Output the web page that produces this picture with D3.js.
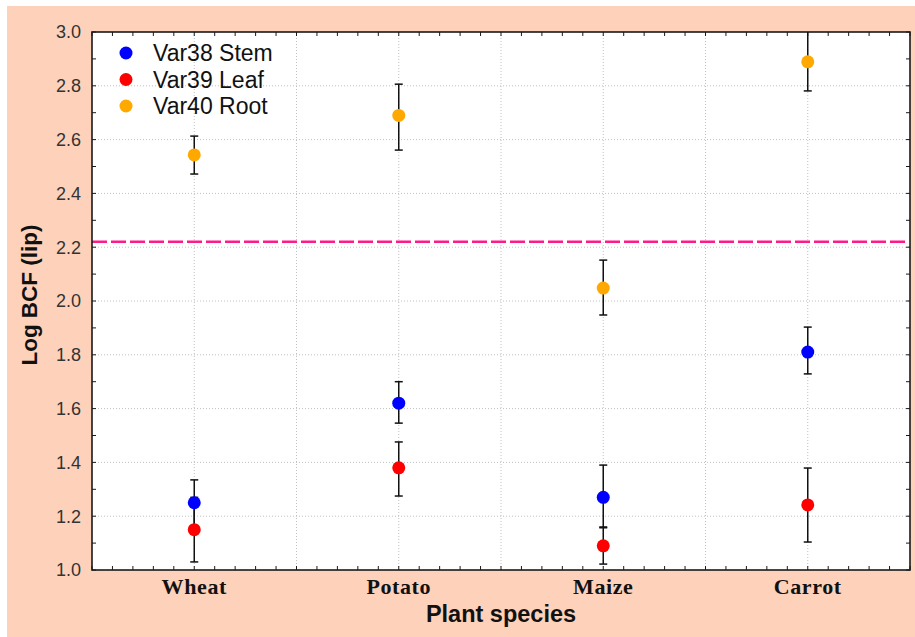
<!DOCTYPE html>
<html>
<head>
<meta charset="utf-8">
<script src="https://cdn.jsdelivr.net/npm/d3@7"></script>
<style>
  body { margin: 0; background: #fff; }
  svg { display: block; }
</style>
</head>
<body>
<svg></svg>
<script>
const width = 915
const height = 637

// data
const species = ["Wheat", "Potato", "Maize", "Carrot"]
const seriesNames = ["Var38 Stem", "Var39 Leaf", "Var40 Root"]
const seriesColors = ["#0000ff", "#ff0000", "#ffa800"]
const stemMean = [1.25, 1.62, 1.27, 1.81]
const stemLow = [1.165, 1.546, 1.16, 1.729]
const stemHigh = [1.335, 1.70, 1.39, 1.903]
const leafMean = [1.15, 1.38, 1.09, 1.242]
const leafLow = [1.03, 1.275, 1.022, 1.104]
const leafHigh = [1.27, 1.476, 1.157, 1.379]
const rootMean = [2.543, 2.69, 2.048, 2.889]
const rootLow = [2.472, 2.561, 1.948, 2.781]
const rootHigh = [2.613, 2.806, 2.152, 3.0]
const yTicks = [1.0, 1.2, 1.4, 1.6, 1.8, 2.0, 2.2, 2.4, 2.6, 2.8, 3.0]
const refLine = 2.22

const margin = { left: 92, top: 32, right: 5, bottom: 67 }

const svg = d3.select('svg')
  .attr('width', width)
  .attr('height', height)

svg.append('rect')
  .attr('x', 7).attr('y', 6)
  .attr('width', width - 7).attr('height', height - 6)
  .attr('fill', '#fdd1ba')

const x = d3.scaleBand()
  .domain(species)
  .range([margin.left, width - margin.right])
  .padding(0)

const y = d3.scaleLinear()
  .domain([1.0, 3.0])
  .range([height - margin.bottom, margin.top])

const x0 = x.range()[0], x1 = x.range()[1]
const y0 = y.range()[0], y1 = y.range()[1]

svg.append('rect')
  .attr('x', x0).attr('y', y1)
  .attr('width', x1 - x0).attr('height', y0 - y1)
  .attr('fill', '#fff')

// grid
const grid = svg.append('g').attr('class', 'grid')
  .attr('stroke', '#c0c0c0')
  .attr('stroke-dasharray', '1,2')
  .attr('stroke-width', 1)

grid.selectAll('.hy')
  .data(yTicks.slice(1, -1))
  .enter().append('line')
    .attr('x1', x0).attr('x2', x1)
    .attr('y1', d => y(d)).attr('y2', d => y(d))

const vLines = []
species.forEach(s => {
  vLines.push(x(s) + x.bandwidth() / 2)
  vLines.push(x(s) + x.bandwidth())
})
grid.selectAll('.vx')
  .data(vLines.slice(0, -1))
  .enter().append('line')
    .attr('x1', d => d).attr('x2', d => d)
    .attr('y1', y0).attr('y2', y1)

// reference line
svg.append('line')
  .attr('x1', x0).attr('x2', x1 - 4)
  .attr('y1', y(refLine)).attr('y2', y(refLine))
  .attr('stroke', '#ff1a8c')
  .attr('stroke-width', 2.5)
  .attr('stroke-dasharray', '15,4')

// frame + minor ticks
const frame = svg.append('g').attr('stroke', '#1a1a1a')
const minorX = d3.range(0, species.length * 10 + 1).map(i => x0 + i * x.bandwidth() / 10)
const minorY = d3.range(1.0, 3.0001, 0.1)

frame.selectAll('.tb')
  .data(minorX)
  .enter().append('line')
    .attr('x1', d => d).attr('x2', d => d)
    .attr('y1', y0).attr('y2', y0 - 4)
    .attr('stroke-width', 1)
frame.selectAll('.tt')
  .data(minorX)
  .enter().append('line')
    .attr('x1', d => d).attr('x2', d => d)
    .attr('y1', y1).attr('y2', y1 + 4)
    .attr('stroke-width', 1)
frame.selectAll('.tl')
  .data(minorY)
  .enter().append('line')
    .attr('x1', x0).attr('x2', x0 + 4)
    .attr('y1', d => y(d)).attr('y2', d => y(d))
    .attr('stroke-width', 1)
frame.selectAll('.tr')
  .data(minorY)
  .enter().append('line')
    .attr('x1', x1).attr('x2', x1 - 4)
    .attr('y1', d => y(d)).attr('y2', d => y(d))
    .attr('stroke-width', 1)

frame.append('rect')
  .attr('x', x0).attr('y', y1)
  .attr('width', x1 - x0).attr('height', y0 - y1)
  .attr('fill', 'none')
  .attr('stroke-width', 1.6)

// y tick labels
svg.append('g').selectAll('text')
  .data(yTicks)
  .enter().append('text')
    .attr('x', x0 - 11)
    .attr('y', d => y(d))
    .attr('dy', '0.36em')
    .attr('text-anchor', 'end')
    .attr('font-family', 'Liberation Sans, Arial, sans-serif')
    .attr('font-size', 18)
    .attr('fill', '#333')
    .text(d => d.toFixed(1))

// x tick labels
svg.append('g').selectAll('text')
  .data(species)
  .enter().append('text')
    .attr('x', d => x(d) + x.bandwidth() / 2)
    .attr('y', y0 + 24)
    .attr('text-anchor', 'middle')
    .attr('font-family', 'Liberation Serif, Times New Roman, serif')
    .attr('font-weight', 'bold')
    .attr('font-size', 22)
    .attr('letter-spacing', 0.6)
    .attr('fill', '#111')
    .text(d => d)

// axis titles
svg.append('text')
  .attr('x', (x0 + x1) / 2)
  .attr('y', 622)
  .attr('text-anchor', 'middle')
  .attr('font-family', 'Liberation Sans, Arial, sans-serif')
  .attr('font-weight', 'bold')
  .attr('font-size', 23.5)
  .attr('fill', '#111')
  .text('Plant species')

svg.append('text')
  .attr('transform', `translate(37,${(y0 + y1) / 2 - 6}) rotate(-90)`)
  .attr('text-anchor', 'middle')
  .attr('font-family', 'Liberation Sans, Arial, sans-serif')
  .attr('font-weight', 'bold')
  .attr('font-size', 22.5)
  .attr('fill', '#111')
  .text('Log BCF (lip)')

// points with error bars
const series = [
  { mean: stemMean, low: stemLow, high: stemHigh },
  { mean: leafMean, low: leafLow, high: leafHigh },
  { mean: rootMean, low: rootLow, high: rootHigh }
]

const pts = []
series.forEach((s, si) => {
  species.forEach((sp, i) => {
    pts.push({ sp: sp, si: si, mean: s.mean[i], low: s.low[i], high: s.high[i] })
  })
})

const cx = d => x(d.sp) + x.bandwidth() / 2

const bars = svg.append('g').attr('stroke', '#111').attr('stroke-width', 1.5)
bars.selectAll('.v')
  .data(pts)
  .enter().append('line')
    .attr('x1', cx).attr('x2', cx)
    .attr('y1', d => y(d.low)).attr('y2', d => y(d.high))
bars.selectAll('.lo')
  .data(pts.filter(d => d.low > 1.0))
  .enter().append('line')
    .attr('x1', d => cx(d) - 4).attr('x2', d => cx(d) + 4)
    .attr('y1', d => y(d.low)).attr('y2', d => y(d.low))
bars.selectAll('.hi')
  .data(pts.filter(d => d.high < 3.0))
  .enter().append('line')
    .attr('x1', d => cx(d) - 4).attr('x2', d => cx(d) + 4)
    .attr('y1', d => y(d.high)).attr('y2', d => y(d.high))

svg.append('g').selectAll('circle')
  .data(pts)
  .enter().append('circle')
    .attr('cx', cx)
    .attr('cy', d => y(d.mean))
    .attr('r', 6.5)
    .attr('fill', d => seriesColors[d.si])

// legend
const legend = svg.append('g')
  .selectAll('g')
  .data(seriesNames)
  .enter().append('g')
    .attr('transform', (d, i) => `translate(126,${53 + i * 26.5})`)

legend.append('circle')
  .attr('r', 6.5)
  .attr('fill', (d, i) => seriesColors[i])

legend.append('text')
  .attr('x', 27)
  .attr('dy', '0.36em')
  .attr('font-family', 'Liberation Sans, Arial, sans-serif')
  .attr('font-size', 23)
  .attr('fill', '#111')
  .text(d => d)
</script>
</body>
</html>
